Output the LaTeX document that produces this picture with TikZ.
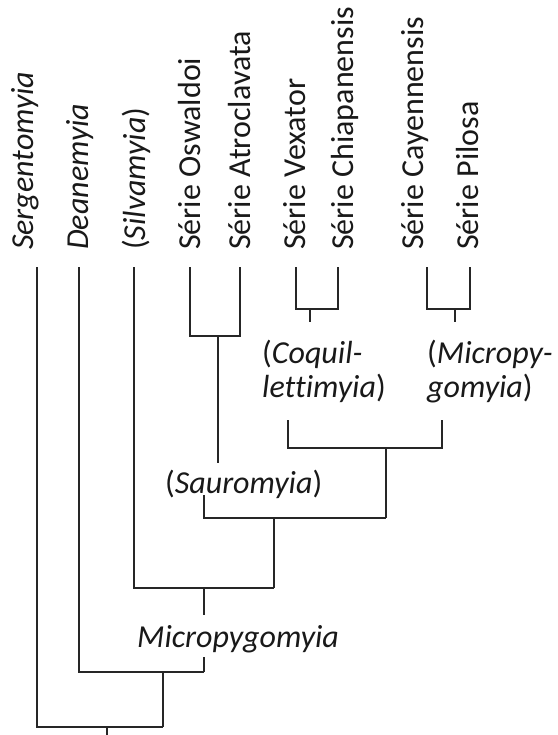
\documentclass[tikz,border=0pt]{standalone}
\usepackage{fontspec}
\setmainfont{Carlito}[Ligatures=NoCommon]
\begin{document}
\begin{tikzpicture}[x=1pt,y=-1pt,
  br/.style={draw=black!85, line width=1.3pt},
  leaf/.style={rotate=90, anchor=base west, inner sep=0pt, text=black!90, font=\fontsize{32}{34}\selectfont},
  lab/.style={anchor=base west, inner sep=0pt, text=black!90, font=\fontsize{32}{34}\selectfont}]
\useasboundingbox (0,0) rectangle (557,735);
% leaf labels
\node[leaf] (serg) at (33,250) {\textit{Sergentomyia}};
\node[leaf] (dean) at (88,250) {\textit{Deanemyia}};
\node[leaf] (silv) at (145,250) {(\textit{Silvamyia})};
\node[leaf] (osw) at (200,250) {Série Oswaldoi};
\node[leaf] (atro) at (250,250) {Série Atroclavata};
\node[leaf] (vex) at (305,250) {Série Vexator};
\node[leaf] (chia) at (353,250) {Série Chiapanensis};
\node[leaf] (cay) at (423,250) {Série Cayennensis};
\node[leaf] (pil) at (478,250) {Série Pilosa};
% inner labels
\node[lab] (coq1) at (262,363) {(\textit{Coquil-}};
\node[lab] (coq2) at (262,397) {\textit{lettimyia})};
\node[lab] (mic1) at (427,363) {(\textit{Micropy-}};
\node[lab] (mic2) at (427,397) {\textit{gomyia})};
\node[lab] (sau) at (165,493) {(\textit{Sauromyia})};
\node[lab] (micro) at (137,647) {\textit{Micropygomyia}};
% leaf line tops
\coordinate (l1) at (37,267);
\coordinate (l2) at (79,267);
\coordinate (l3) at (134,267);
\coordinate (l4) at (190,267);
\coordinate (l5) at (240,267);
\coordinate (l6) at (296,267);
\coordinate (l7) at (338,267);
\coordinate (l8) at (427,267);
\coordinate (l9) at (470,267);
% junctions
\coordinate (j45) at (218,336);
\coordinate (s45) at (218,463);
\coordinate (j67) at (310,309);
\coordinate (s67) at (310,322);
\coordinate (j89) at (455,309);
\coordinate (s89) at (455,322);
\coordinate (cL) at (288,420);
\coordinate (cR) at (442,420);
\coordinate (jcm) at (386,448);
\coordinate (sL) at (204,495);
\coordinate (jsR) at (386,518);
\coordinate (jsau) at (274,518);
\coordinate (jsil) at (274,588);
\coordinate (ssil) at (204,588);
\coordinate (m1) at (204,615);
\coordinate (m2) at (204,657);
\coordinate (jdea) at (204,672);
\coordinate (sdea) at (163,672);
\coordinate (jser) at (163,727);
\coordinate (root) at (107,727);
\coordinate (rootend) at (107,735);
% branches
\draw[br] (l4) |- (j45) -| (l5);
\draw[br] (j45) -- (s45);
\draw[br] (l6) |- (j67) -| (l7);
\draw[br] (j67) -- (s67);
\draw[br] (l8) |- (j89) -| (l9);
\draw[br] (j89) -- (s89);
\draw[br] (cL) |- (jcm) -| (cR);
\draw[br] (jcm) -- (jsR);
\draw[br] (sL) |- (jsR);
\draw[br] (jsau) -- (jsil);
\draw[br] (l3) |- (jsil);
\draw[br] (ssil) -- (m1);
\draw[br] (m2) -- (jdea);
\draw[br] (l2) |- (jdea);
\draw[br] (sdea) -- (jser);
\draw[br] (l1) |- (jser);
\draw[br] (root) -- (rootend);
\end{tikzpicture}
\end{document}
